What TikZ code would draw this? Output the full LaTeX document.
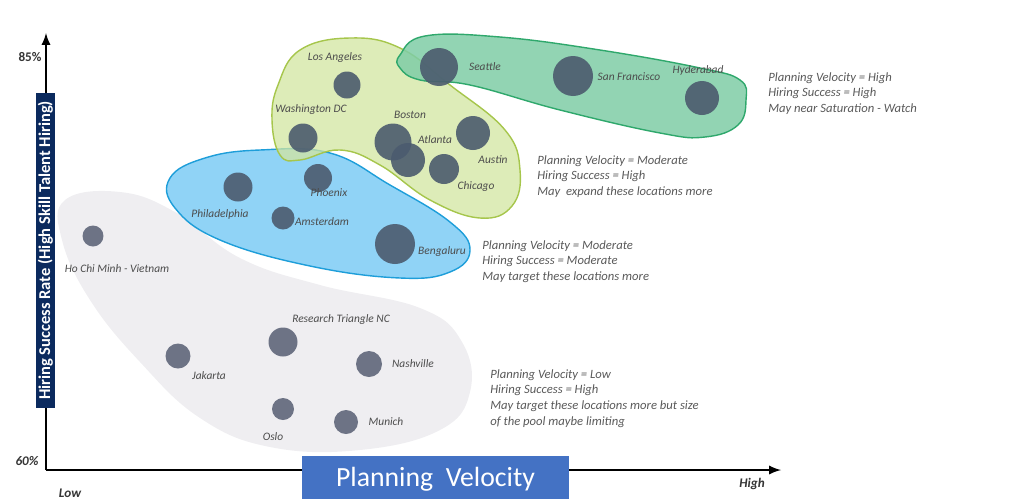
\documentclass[tikz,border=0pt]{standalone}
\usepackage{fontspec}
\setmainfont{Carlito}
\usepackage{tikz}
\usetikzlibrary{positioning}
\definecolor{cityfill}{HTML}{4B5B6E}
\definecolor{greyfill}{HTML}{6D7385}
\definecolor{textgrey}{HTML}{595959}
\definecolor{navy}{HTML}{0B2A5E}
\definecolor{velblue}{HTML}{4472C4}
\definecolor{greenblob}{HTML}{7FCDA6}
\definecolor{greenline}{HTML}{2FA86C}
\definecolor{yellowblob}{HTML}{D2E5A0}
\definecolor{yellowline}{HTML}{A6C64C}
\definecolor{blueblob}{HTML}{7CCBF5}
\definecolor{blueline}{HTML}{1E9ED9}
\definecolor{greyblob}{HTML}{EFEEF1}

\begin{document}
\begin{tikzpicture}[x=0.02cm, y=-0.02cm,
    city/.style={circle, fill=cityfill, fill opacity=0.9, inner sep=0pt},
    lowcity/.style={circle, fill=greyfill, inner sep=0pt},
    place/.style={font=\fontsize{6.5}{7.5}\selectfont\itshape, text=textgrey!85!black, inner sep=0pt},
    note/.style={font=\fontsize{7.2}{9}\selectfont\itshape, text=textgrey, align=left, anchor=north west, inner sep=0pt},
    tick/.style={font=\fontsize{7.5}{9}\selectfont\bfseries\itshape, text=textgrey!60!black}]
    \useasboundingbox (0,0) rectangle (1024,498);

    % groups
    \fill[greyblob] plot[smooth cycle, tension=0.7] coordinates {(65,200) (120,192) (175,212) (240,258) (320,285) (420,308) (462,342) (470,392) (440,430) (360,450) (270,447) (200,418) (140,362) (90,300) (62,240)};
    \filldraw[fill=blueblob, fill opacity=0.85, draw=blueline, thick] plot[smooth cycle, tension=0.7] coordinates {(170,178) (205,158) (260,150) (330,153) (390,185) (450,222) (470,250) (450,272) (400,278) (310,266) (220,240) (175,208)};
    \filldraw[fill=yellowblob, fill opacity=0.75, draw=yellowline, thick] plot[smooth cycle, tension=0.7] coordinates {(300,160) (340,150) (380,165) (430,200) (480,218) (512,206) (520,170) (505,130) (450,85) (400,48) (350,38) (300,50) (278,85) (272,120) (280,155)};
    \filldraw[fill=greenblob, fill opacity=0.85, draw=greenline, thick] plot[smooth cycle, tension=0.7] coordinates {(400,55) (425,36) (500,37) (600,50) (700,68) (740,80) (746,100) (738,125) (705,137) (660,133) (560,110) (470,85) (420,80) (400,68)};

    % axes
    \coordinate (origin) at (46,470);
    \coordinate (ytop) at (46,33);
    \coordinate (xend) at (781,470);
    \draw[line width=1.3pt, -latex] (origin) -- (ytop);
    \draw[line width=1.3pt, -latex] (origin) -- (xend);
    \node[tick, font=\fontsize{7.5}{9}\selectfont\bfseries] (top) at (30,57) {85\%};
    \node[tick] (bottom) at (27,461) {60\%};
    \node[tick] (high) at (752,484) {High};
    \node[tick] (low) at (70,493) {Low};
    \node[fill=navy, text=white, rotate=90, minimum width=6.3cm, minimum height=0.38cm, inner sep=0pt,
          font=\fontsize{9.4}{10}\selectfont\bfseries] (ylabel) at (45.5,250.5) {Hiring Success Rate (High Skill Talent Hiring)};
    \node[fill=velblue, text=white, minimum width=5.34cm, minimum height=0.94cm, inner sep=0pt,
          font=\fontsize{15.8}{18}\selectfont] (xlabel) at (435.5,479) {Planning\ \ Velocity};

    % cities
    \node[city, minimum size=0.76cm] (seattle) at (439,67) {};
    \node[city, minimum size=0.80cm] (sf) at (573,76) {};
    \node[city, minimum size=0.68cm] (hyd) at (702,98) {};
    \node[city, minimum size=0.54cm] (la) at (347,85) {};
    \node[city, minimum size=0.58cm] (dc) at (303,138) {};
    \node[city, minimum size=0.74cm] (boston) at (393,142) {};
    \node[city, minimum size=0.68cm] (atlanta) at (408,160) {};
    \node[city, minimum size=0.68cm] (austin) at (473,133) {};
    \node[city, minimum size=0.60cm] (chicago) at (444,169) {};
    \node[city, minimum size=0.56cm] (phoenix) at (318,178) {};
    \node[city, minimum size=0.58cm] (phil) at (238,187) {};
    \node[city, minimum size=0.46cm] (ams) at (283,218) {};
    \node[city, minimum size=0.80cm] (blr) at (395,244) {};
    \node[lowcity, minimum size=0.42cm] (hcm) at (93,236) {};
    \node[lowcity, minimum size=0.58cm] (rtnc) at (283,342) {};
    \node[lowcity, minimum size=0.50cm] (jakarta) at (178,356) {};
    \node[lowcity, minimum size=0.52cm] (nash) at (369,364) {};
    \node[lowcity, minimum size=0.44cm] (oslo) at (283,409) {};
    \node[lowcity, minimum size=0.48cm] (munich) at (346,422) {};

    \node[place] (seattlename) at (485,67) {Seattle};
    \node[place] (sfname) at (629,77) {San Francisco};
    \node[place] (hydname) at (698,70) {Hyderabad};
    \node[place] (laname) at (335,58) {Los Angeles};
    \node[place] (dcname) at (311,110) {Washington DC};
    \node[place] (bostonname) at (410,115) {Boston};
    \node[place] (atlantaname) at (435,140) {Atlanta};
    \node[place] (austinname) at (493,160) {Austin};
    \node[place] (chicagoname) at (476,187) {Chicago};
    \node[place] (phoenixname) at (329,193) {Phoenix};
    \node[place] (philname) at (220,214) {Philadelphia};
    \node[place] (amsname) at (322,222) {Amsterdam};
    \node[place] (blrname) at (442,252) {Bengaluru};
    \node[place] (hcmname) at (117,269) {Ho Chi Minh - Vietnam};
    \node[place] (rtncname) at (341,320) {Research Triangle NC};
    \node[place] (jakartaname) at (209,376) {Jakarta};
    \node[place] (nashname) at (413,364) {Nashville};
    \node[place] (osloname) at (273,437) {Oslo};
    \node[place] (munichname) at (386,422) {Munich};

    % notes
    \node[note] (highnote) at (768,72) {Planning Velocity = High\\Hiring Success = High\\May near Saturation - Watch};
    \node[note] (modnote) at (537,155) {Planning Velocity = Moderate\\Hiring Success = High\\May\ \ expand these locations more};
    \node[note] (targetnote) at (482,240) {Planning Velocity = Moderate\\Hiring Success = Moderate\\May target these locations more};
    \node[note] (lownote) at (490,369) {Planning Velocity = Low\\Hiring Success = High\\May target these locations more but size\\of the pool maybe limiting};
\end{tikzpicture}
\end{document}
